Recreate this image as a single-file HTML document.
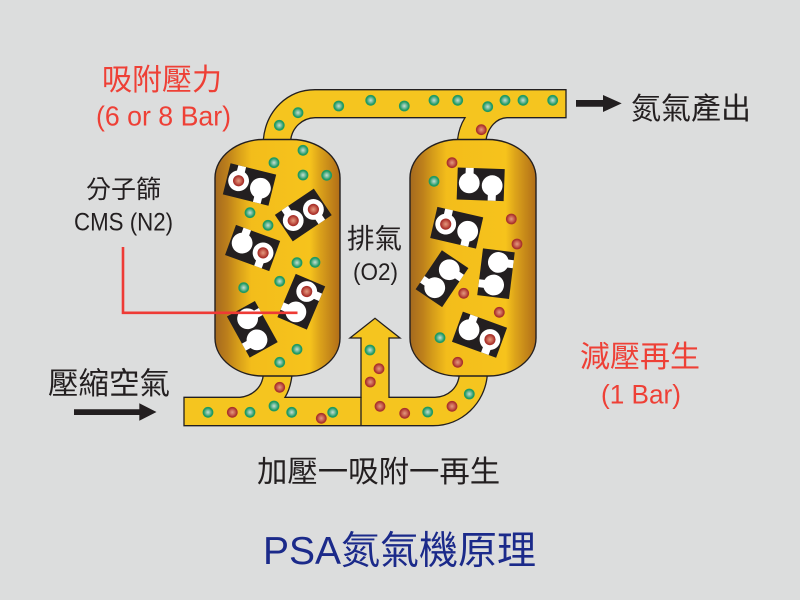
<!DOCTYPE html>
<html><head><meta charset="utf-8"><style>
html,body{margin:0;padding:0;background:#dcdddd}
svg{display:block}
text{font-family:"Liberation Sans","Noto Sans CJK TC",sans-serif}
</style></head><body>
<svg width="800" height="600" viewBox="0 0 800 600" xmlns="http://www.w3.org/2000/svg">
<defs>
<linearGradient id="tank" x1="0" x2="1" y1="0" y2="0">
<stop offset="0" stop-color="#a4691f"/><stop offset=".1" stop-color="#bd801b"/><stop offset=".18" stop-color="#d59c1a"/><stop offset=".29" stop-color="#f3bd1b"/><stop offset=".76" stop-color="#f6c31c"/><stop offset=".84" stop-color="#dba21a"/><stop offset="1" stop-color="#b06d18"/>
</linearGradient>
<radialGradient id="gd"><stop offset="0" stop-color="#c5e0d3"/><stop offset=".45" stop-color="#6db897"/><stop offset=".8" stop-color="#1f9a62"/><stop offset="1" stop-color="#1f9a62"/></radialGradient>
<radialGradient id="rd"><stop offset="0" stop-color="#e29a80"/><stop offset=".5" stop-color="#c8604f"/><stop offset=".85" stop-color="#a9322c"/><stop offset="1" stop-color="#a9322c"/></radialGradient>
<circle id="g" r="5.4" fill="url(#gd)"/>
<circle id="r" r="5.4" fill="url(#rd)"/>
<rect id="base" x="-23.5" y="-16" width="47" height="32" fill="#231f20"/>
<g id="L"><rect x="-15.5" y="-16" width="8" height="15" fill="#fff"/><circle cx="-11.5" cy="-1" r="10.4" fill="#fff"/></g>
<g id="R"><rect x="7.5" y="1" width="8" height="15" fill="#fff"/><circle cx="11.5" cy="1" r="10.4" fill="#fff"/></g>
<g id="LR"><circle cx="-11.5" cy="-1" r="5.6" fill="url(#rd)"/></g>
<g id="RR"><circle cx="11.5" cy="1" r="5.6" fill="url(#rd)"/></g>
</defs>
<rect width="800" height="600" fill="#dcdddd"/>

<!-- top pipe -->
<path d="M263.3 140C266 110 288 89.7 315 89.7H566V117.7H507C497 118 488 127 486 140H457.5C458.5 131 461 124 465 117.7H315C302 118 292 128 290.7 140Z" fill="#f5c51f" stroke="#231f20" stroke-width="1.3"/>
<!-- bottom pipe -->
<path d="M184 397.3H240C252 396 262 388 263.3 375H292C291 384 289 391 285 397.3H361V338H350L375 318.3L400 338H389V397.3H435C448 397 458 388 459.3 375H487.3C485 403 462 425.7 433 425.7H184Z" fill="#f5c51f" stroke="#231f20" stroke-width="1.3"/>
<line x1="361" y1="397" x2="361" y2="425.7" stroke="#231f20" stroke-width="1.3"/>

<!-- tanks -->
<path d="M215 178C215 156 238 139.5 263 139.5H292C317 139.5 340 156 340 178V338C340 360 317 376 292 376H263C238 376 215 360 215 338Z" fill="url(#tank)" stroke="#231f20" stroke-width="1.4"/>
<path d="M410 178C410 156 433 139.5 458 139.5H488C513 139.5 536 156 536 178V338C536 360 513 376 488 376H458C433 376 410 360 410 338Z" fill="url(#tank)" stroke="#231f20" stroke-width="1.4"/>

<!-- tiles -->
<g transform="translate(249.5 184.5) rotate(14)"><use href="#base"/><use href="#L"/><use href="#R"/><use href="#LR"/></g>
<g transform="translate(303.3 215) rotate(-34)"><use href="#base"/><use href="#L"/><use href="#R"/><use href="#LR"/><use href="#RR"/></g>
<g transform="translate(252.6 248) rotate(20)"><use href="#base"/><use href="#L"/><use href="#R"/><use href="#RR"/></g>
<g transform="translate(301.3 301.7) rotate(113)"><use href="#base"/><use href="#L"/><use href="#R"/><use href="#LR"/></g>
<g transform="translate(252.3 329.3) rotate(61)"><use href="#base"/><use href="#L"/><use href="#R"/></g>
<g transform="translate(480.7 184.3) rotate(2)"><use href="#base"/><use href="#L"/><use href="#R"/></g>
<g transform="translate(456.7 227.7) rotate(13)"><use href="#base"/><use href="#L"/><use href="#R"/><use href="#LR"/></g>
<g transform="translate(442 278.7) rotate(124)"><use href="#base"/><use href="#L"/><use href="#R"/></g>
<g transform="translate(496 273.7) rotate(97)"><use href="#base"/><use href="#L"/><use href="#R"/></g>
<g transform="translate(479.5 334.7) rotate(20)"><use href="#base"/><use href="#L"/><use href="#R"/><use href="#RR"/></g>

<!-- green dots -->
<use href="#g" x="303" y="150.3"/><use href="#g" x="274" y="162.7"/><use href="#g" x="303" y="175"/><use href="#g" x="326.7" y="175.3"/><use href="#g" x="250" y="212.7"/><use href="#g" x="268" y="225.3"/><use href="#g" x="297" y="262.7"/><use href="#g" x="315" y="262.3"/><use href="#g" x="279.7" y="281.3"/><use href="#g" x="243.7" y="287.7"/><use href="#g" x="297" y="349.3"/><use href="#g" x="279.7" y="362.3"/>
<use href="#g" x="434" y="181.3"/><use href="#g" x="440" y="337.7"/>
<use href="#g" x="208" y="412.3"/><use href="#g" x="250" y="412.3"/><use href="#g" x="274" y="406"/><use href="#g" x="291.7" y="412.3"/><use href="#g" x="332.7" y="412.3"/><use href="#g" x="370" y="350"/><use href="#g" x="427.7" y="412"/><use href="#g" x="469.3" y="394"/>
<use href="#g" x="279.3" y="125.3"/><use href="#g" x="298" y="112.7"/><use href="#g" x="338.7" y="106"/><use href="#g" x="370.7" y="100.3"/><use href="#g" x="404.3" y="106"/><use href="#g" x="434" y="100.3"/><use href="#g" x="457.7" y="100.3"/><use href="#g" x="487.7" y="106.7"/><use href="#g" x="505" y="100.3"/><use href="#g" x="523" y="100.3"/><use href="#g" x="552.7" y="100.3"/>
<!-- red dots -->
<use href="#r" x="452" y="162.7"/><use href="#r" x="511.3" y="219"/><use href="#r" x="517" y="244"/><use href="#r" x="463.7" y="293.3"/><use href="#r" x="499.3" y="312.3"/><use href="#r" x="457.7" y="362.3"/>
<use href="#r" x="232.3" y="412.3"/><use href="#r" x="321.3" y="418.3"/><use href="#r" x="279.7" y="387.3"/><use href="#r" x="379" y="368.7"/><use href="#r" x="370.3" y="382"/><use href="#r" x="380" y="406.3"/><use href="#r" x="404.7" y="413.3"/><use href="#r" x="452" y="406.3"/><use href="#r" x="481.3" y="129.7"/>

<!-- red leader -->
<path d="M123 247V312.8H297.5" fill="none" stroke="#ee3a35" stroke-width="2.6"/>

<!-- arrows -->
<path d="M576 100H603V95L621.7 103.4L603 112V106.7H576Z" fill="#231f20"/>
<path d="M74 409.3H139.3V403.3L156.5 412L139.3 420.7V415H74Z" fill="#231f20"/>

<!-- labels -->
<g fill="#ee4036">
<text x="102" y="90" font-size="30">吸附壓力</text>
<text x="96" y="125.7" font-size="27.5" textLength="135" lengthAdjust="spacingAndGlyphs">(6 or 8 Bar)</text>
<text x="580" y="367" font-size="30">減壓再生</text>
<text x="601" y="403.3" font-size="27" textLength="80" lengthAdjust="spacingAndGlyphs">(1 Bar)</text>
</g>
<g fill="#231f20">
<text x="631" y="119" font-size="30">氮氣產出</text>
<text x="86" y="198" font-size="25">分子篩</text>
<text x="74" y="230.7" font-size="25" textLength="99" lengthAdjust="spacingAndGlyphs">CMS (N2)</text>
<text x="347" y="248" font-size="27.5">排氣</text>
<text x="353" y="280" font-size="24" textLength="45" lengthAdjust="spacingAndGlyphs">(O2)</text>
<text x="48" y="394" font-size="30.5">壓縮空氣</text>
<text x="257" y="482" font-size="30.4">加壓一吸附一再生</text>
</g>
<text x="263" y="564" font-size="39" fill="#1b2a8a">PSA氮氣機原理</text>
</svg>
</body></html>
